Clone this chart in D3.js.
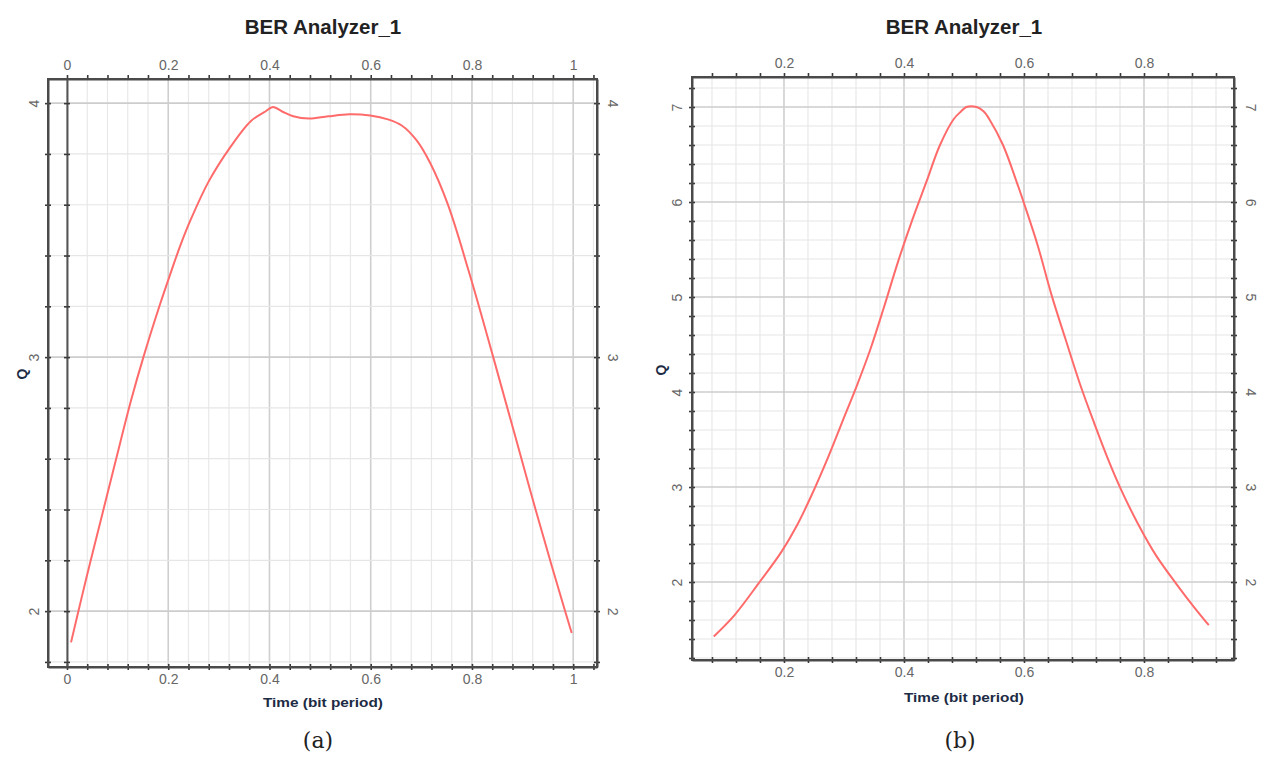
<!DOCTYPE html>
<html>
<head>
<meta charset="utf-8">
<script src="https://cdn.jsdelivr.net/npm/d3@7"></script>
<style>
  html, body { margin: 0; padding: 0; background: #fff; }
  svg { display: block; }
</style>
</head>
<body>
<div class="chartWrapper"></div>
<script>
// Q factor vs time, panel (a)
const timeA = [0.008, 0.030, 0.051, 0.078, 0.106, 0.127, 0.151, 0.183, 0.203, 0.224, 0.245, 0.280,
  0.322, 0.363, 0.391, 0.407, 0.426, 0.447, 0.478, 0.516, 0.558, 0.599, 0.634, 0.662, 0.690,
  0.717, 0.752, 0.794, 0.842, 0.884, 0.919, 0.953, 0.981, 0.997];
const qA = [1.877, 2.062, 2.233, 2.447, 2.670, 2.833, 3.000, 3.203, 3.321, 3.440, 3.544, 3.692,
  3.825, 3.929, 3.966, 3.985, 3.966, 3.948, 3.939, 3.948, 3.956, 3.951, 3.936, 3.911, 3.855,
  3.766, 3.603, 3.336, 3.000, 2.699, 2.447, 2.210, 2.020, 1.914];

// Q factor vs time, panel (b)
const timeB = [0.083, 0.118, 0.158, 0.196, 0.222, 0.245, 0.274, 0.298, 0.321, 0.344, 0.367, 0.390,
  0.414, 0.437, 0.460, 0.483, 0.495, 0.504, 0.521, 0.533, 0.542, 0.565, 0.588, 0.603, 0.623,
  0.646, 0.669, 0.693, 0.716, 0.739, 0.762, 0.791, 0.820, 0.855, 0.884, 0.908];
const qB = [1.427, 1.655, 1.988, 2.320, 2.600, 2.900, 3.320, 3.700, 4.060, 4.450, 4.900, 5.370,
  5.815, 6.207, 6.600, 6.874, 6.953, 7.000, 7.000, 6.953, 6.874, 6.600, 6.207, 5.930, 5.540,
  5.020, 4.560, 4.090, 3.690, 3.310, 2.970, 2.600, 2.280, 1.970, 1.730, 1.545];

// tick labels
const xTicksA = [0, 0.2, 0.4, 0.6, 0.8, 1];
const yTicksA = [2, 3, 4];
const xTicksB = [0.2, 0.4, 0.6, 0.8];
const yTicksB = [2, 3, 4, 5, 6, 7];

const titleText = "BER Analyzer_1";
const xLabelText = "Time (bit period)";
const yLabelText = "Q";

let width = 1264, height = 757;

let svg = d3.select('.chartWrapper')
  .append('svg')
  .attr('width', width)
  .attr('height', height);

let isMajor = (v, step) => Math.abs(v / step - Math.round(v / step)) < 1e-6;

let drawPanel = (cfg) => {
  let xScale = d3.scaleLinear().domain(cfg.xDom).range([cfg.x0, cfg.x1]);
  let yScale = d3.scaleLinear().domain(cfg.yDom).range([cfg.y1, cfg.y0]);

  let xMinor = d3.range(0, 27).map(i => +(i * 0.04).toFixed(2))
    .filter(v => v >= cfg.xDom[0] && v <= cfg.xDom[1]);
  let yMinor = d3.range(0, 40).map(i => +(i * 0.2).toFixed(1))
    .filter(v => v >= cfg.yDom[0] && v <= cfg.yDom[1]);

  let g = svg.append('g');

  //grid
  g.append('g').selectAll('line')
    .data(xMinor)
    .enter()
    .append('line')
    .attr('x1', d => xScale(d)).attr('x2', d => xScale(d))
    .attr('y1', cfg.y0).attr('y2', cfg.y1)
    .attr('stroke', d => isMajor(d, 0.2) ? '#cfcfcf' : '#e8e8e8')
    .attr('stroke-width', d => isMajor(d, 0.2) ? 1.6 : 1.2);

  g.append('g').selectAll('line')
    .data(yMinor)
    .enter()
    .append('line')
    .attr('x1', cfg.x0).attr('x2', cfg.x1)
    .attr('y1', d => yScale(d)).attr('y2', d => yScale(d))
    .attr('stroke', d => isMajor(d, 1) ? '#cdcdcd' : '#e6e6e6')
    .attr('stroke-width', d => isMajor(d, 1) ? 1.6 : 1.2);

  //curve
  let line = d3.line()
    .x((d, i) => xScale(cfg.xs[i]))
    .y(d => yScale(d))
    .curve(d3.curveCatmullRom.alpha(0.5));

  g.append('path')
    .datum(cfg.ys)
    .attr('d', line)
    .attr('fill', 'none')
    .attr('stroke', '#ff6b6b')
    .attr('stroke-width', 2);

  //axes with labels
  let styleAxis = (sel) => {
    sel.selectAll('.domain').attr('stroke', '#4a4a4a').attr('stroke-width', 2);
    sel.selectAll('.tick line').attr('stroke', '#3a3a3a').attr('stroke-width', 1.6);
    sel.selectAll('text')
      .attr('fill', '#666')
      .style('font-family', 'Liberation Sans, Arial, sans-serif')
      .style('font-size', '14px');
  };

  let fmt = d3.format('');

  let topAxis = g.append('g')
    .attr('transform', 'translate(0,' + cfg.y0 + ')')
    .call(d3.axisTop(xScale).tickValues(xMinor).tickSize(4).tickSizeOuter(0)
      .tickFormat(d => cfg.xTicks.includes(d) ? fmt(d) : ''));
  styleAxis(topAxis);
  topAxis.selectAll('text').attr('y', -9);

  let bottomAxis = g.append('g')
    .attr('transform', 'translate(0,' + cfg.y1 + ')')
    .call(d3.axisBottom(xScale).tickValues(xMinor).tickSize(3).tickSizeOuter(0)
      .tickFormat(d => cfg.xTicks.includes(d) ? fmt(d) : ''));
  styleAxis(bottomAxis);
  bottomAxis.selectAll('text').attr('y', 13).attr('dy', '0.32em');

  let leftAxis = g.append('g')
    .attr('transform', 'translate(' + cfg.x0 + ',0)')
    .call(d3.axisLeft(yScale).tickValues(yMinor).tickSize(3).tickSizeOuter(0)
      .tickFormat(d => cfg.yTicks.includes(d) ? fmt(d) : ''));
  styleAxis(leftAxis);
  leftAxis.selectAll('text')
    .attr('x', 0).attr('dy', 0)
    .attr('text-anchor', 'middle')
    .attr('dominant-baseline', 'central')
    .attr('transform', 'translate(' + (-cfg.yLabOff) + ',0) rotate(-90)');

  let rightAxis = g.append('g')
    .attr('transform', 'translate(' + cfg.x1 + ',0)')
    .call(d3.axisRight(yScale).tickValues(yMinor).tickSize(3).tickSizeOuter(0)
      .tickFormat(d => cfg.yTicks.includes(d) ? fmt(d) : ''));
  styleAxis(rightAxis);
  rightAxis.selectAll('text')
    .attr('x', 0).attr('dy', 0)
    .attr('text-anchor', 'middle')
    .attr('dominant-baseline', 'central')
    .attr('transform', 'translate(' + (cfg.yLabOff + 2) + ',0) rotate(90)');

  //inner halves of the tick marks
  let innerTicks = (axis, tx, ty) => {
    let a = g.append('g')
      .attr('transform', 'translate(' + tx + ',' + ty + ')')
      .call(axis.tickSize(3).tickSizeOuter(0).tickFormat(''));
    a.select('.domain').remove();
    a.selectAll('.tick line').attr('stroke', '#3a3a3a').attr('stroke-width', 1.6);
  };
  innerTicks(d3.axisRight(yScale).tickValues(yMinor), cfg.x0, 0);
  innerTicks(d3.axisLeft(yScale).tickValues(yMinor), cfg.x1, 0);
  innerTicks(d3.axisTop(xScale).tickValues(xMinor), 0, cfg.y1);

  //zero line
  if (cfg.xDom[0] < 0) {
    let zero = g.append('g')
      .attr('transform', 'translate(' + xScale(0) + ',0)')
      .call(d3.axisLeft(yScale).tickValues(yMinor).tickSize(3).tickSizeOuter(0).tickFormat(''));
    zero.select('.domain').attr('stroke', '#555').attr('stroke-width', 2);
    zero.selectAll('.tick line').attr('stroke', '#3a3a3a').attr('stroke-width', 1.6);
    innerTicks(d3.axisRight(yScale).tickValues(yMinor), xScale(0), 0);
  }

  //frame
  g.append('rect')
    .attr('x', cfg.x0).attr('y', cfg.y0)
    .attr('width', cfg.x1 - cfg.x0).attr('height', cfg.y1 - cfg.y0)
    .attr('fill', 'none')
    .attr('stroke', '#4a4a4a')
    .attr('stroke-width', 2);

  //texts
  g.append('text')
    .attr('x', cfg.titleX).attr('y', 34)
    .attr('text-anchor', 'middle')
    .style('font-family', 'Liberation Sans, Arial, sans-serif')
    .style('font-weight', 'bold')
    .style('font-size', '20.5px')
    .attr('fill', '#222')
    .text(titleText);

  g.append('text')
    .attr('x', cfg.titleX).attr('y', cfg.xLabY)
    .attr('text-anchor', 'middle')
    .attr('textLength', 120)
    .attr('lengthAdjust', 'spacingAndGlyphs')
    .style('font-family', 'Liberation Sans, Arial, sans-serif')
    .style('font-weight', 'bold')
    .style('font-size', '13px')
    .attr('fill', '#1d2b45')
    .text(xLabelText);

  g.append('text')
    .attr('transform', 'translate(' + cfg.qX + ',' + cfg.qY + ') rotate(-90)')
    .attr('text-anchor', 'middle')
    .attr('dominant-baseline', 'central')
    .style('font-family', 'Liberation Sans, Arial, sans-serif')
    .style('font-weight', 'bold')
    .style('font-size', '14px')
    .attr('fill', '#1d2b45')
    .text(yLabelText);

  g.append('text')
    .attr('x', cfg.capX).attr('y', 748)
    .attr('text-anchor', 'middle')
    .style('font-family', 'DejaVu Serif, serif')
    .style('font-size', '22px')
    .attr('fill', '#222')
    .text(cfg.caption);
};

drawPanel({
  x0: 48, x1: 597, y0: 79, y1: 667,
  xDom: [-0.0375, 1.047], yDom: [1.78, 4.095],
  xs: timeA, ys: qA, xTicks: xTicksA, yTicks: yTicksA,
  yLabOff: 14, titleX: 323, xLabY: 707, qX: 22, qY: 374,
  capX: 318, caption: '(a)'
});

drawPanel({
  x0: 692, x1: 1234, y0: 77, y1: 660,
  xDom: [0.0467, 0.95], yDom: [1.179, 7.316],
  xs: timeB, ys: qB, xTicks: xTicksB, yTicks: yTicksB,
  yLabOff: 15, titleX: 964, xLabY: 702, qX: 661, qY: 370,
  capX: 960, caption: '(b)'
});
</script>
</body>
</html>
